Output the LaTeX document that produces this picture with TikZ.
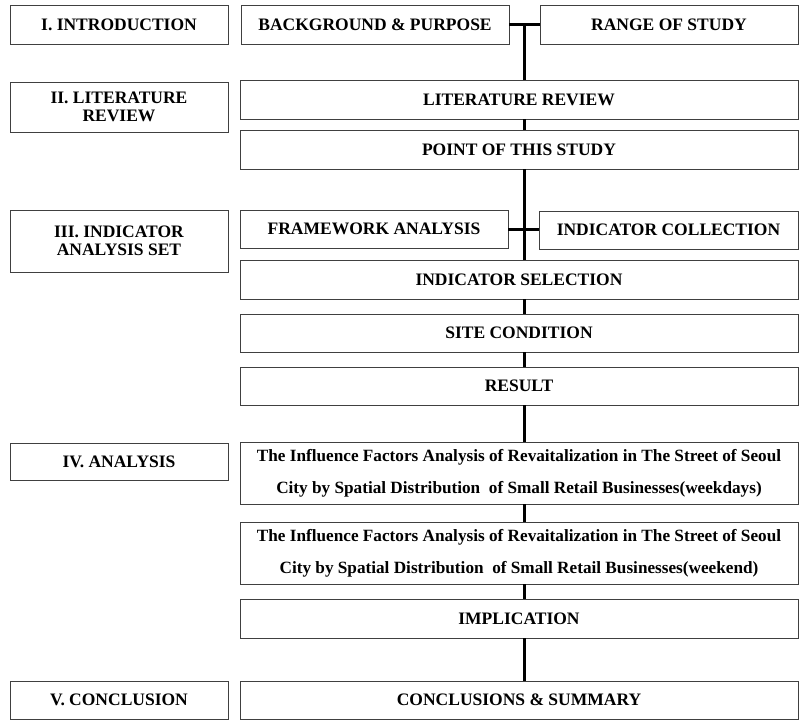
\documentclass[tikz,border=0pt]{standalone}
\usepackage{fontspec}
\setmainfont{Liberation Serif}
\begin{document}
\begin{tikzpicture}[x=1pt,y=-1pt,
  box/.style={draw=black!75,line width=0.9pt,fill=white,rectangle,inner sep=0pt,align=center,
    font=\bfseries\fontsize{17.5}{18.5}\selectfont},
  lbox/.style={box,minimum width=218pt},
  wbox/.style={box,minimum width=558pt},
  conn/.style={line width=3pt,black}]
\useasboundingbox (0,0) rectangle (799,720);
\coordinate (sp) at (524,0);
% left column labels
\node[lbox,minimum height=39pt] (intro) at (119,24.5) {I. INTRODUCTION};
\node[lbox,minimum height=50pt] (litlab) at (119,107) {II. LITERATURE\\REVIEW};
\node[lbox,minimum height=62pt] (indlab) at (119,241) {III. INDICATOR\\ANALYSIS SET};
\node[lbox,minimum height=37pt] (anlab) at (119,461.5) {IV. ANALYSIS};
\node[lbox,minimum height=38pt] (conlab) at (119,700) {V. CONCLUSION};
% right column
\node[box,minimum width=268pt,minimum height=39pt] (bg) at (375,24.5) {BACKGROUND \& PURPOSE};
\node[box,minimum width=258pt,minimum height=39pt] (range) at (669,24.5) {RANGE OF STUDY};
\node[wbox,minimum height=39pt] (lit) at (519,99.5) {LITERATURE REVIEW};
\node[wbox,minimum height=39pt] (point) at (519,149.5) {POINT OF THIS STUDY};
\node[box,minimum width=268pt,minimum height=38pt] (fw) at (374,229) {FRAMEWORK ANALYSIS};
\node[box,minimum width=259pt,minimum height=38pt] (coll) at (668.5,230) {INDICATOR COLLECTION};
\node[wbox,minimum height=39pt] (sel) at (519,279.5) {INDICATOR SELECTION};
\node[wbox,minimum height=38pt] (site) at (519,333) {SITE CONDITION};
\node[wbox,minimum height=38pt] (res) at (519,386) {RESULT};
\node[wbox,minimum height=62pt,font=\bfseries\fontsize{17.2}{32}\selectfont] (wd) at (519,473)
  {The Influence Factors Analysis of Revaitalization in The Street of Seoul\\City by Spatial Distribution\ \ of Small Retail Businesses(weekdays)};
\node[wbox,minimum height=62pt,font=\bfseries\fontsize{17.2}{32}\selectfont] (we) at (519,553)
  {The Influence Factors Analysis of Revaitalization in The Street of Seoul\\City by Spatial Distribution\ \ of Small Retail Businesses(weekend)};
\node[wbox,minimum height=39pt] (impl) at (519,618.5) {IMPLICATION};
\node[wbox,minimum height=38pt] (conc) at (519,700) {CONCLUSIONS \& SUMMARY};
% connectors
\draw[conn] (bg.east) -- (range.west);
\draw[conn] (sp |- bg.east) -- (sp |- lit.north);
\draw[conn] (sp |- lit.south) -- (sp |- point.north);
\draw[conn] (sp |- point.south) -- (sp |- sel.north);
\draw[conn] (fw.east) -- (coll.west |- fw.east);
\draw[conn] (sp |- sel.south) -- (sp |- site.north);
\draw[conn] (sp |- site.south) -- (sp |- res.north);
\draw[conn] (sp |- res.south) -- (sp |- wd.north);
\draw[conn] (sp |- wd.south) -- (sp |- we.north);
\draw[conn] (sp |- we.south) -- (sp |- impl.north);
\draw[conn] (sp |- impl.south) -- (sp |- conc.north);
\end{tikzpicture}
\end{document}
